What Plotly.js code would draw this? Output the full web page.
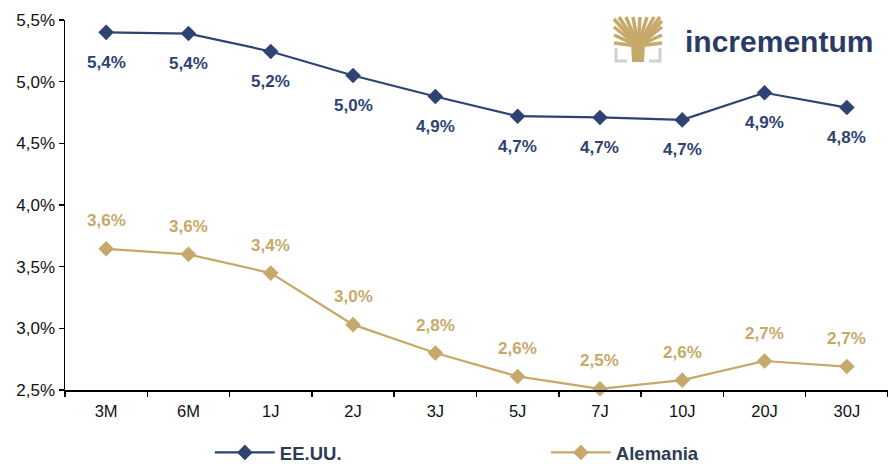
<!DOCTYPE html>
<html>
<head>
<meta charset="utf-8">
<script src="https://cdn.plot.ly/plotly-3.0.1.min.js"></script>
<style>html,body{margin:0;padding:0;background:#fff;}#chart{width:888px;height:466px;}</style>
</head>
<body>
<div id="chart"></div>
<script>
var categories = ["3M","6M","1J","2J","3J","5J","7J","10J","20J","30J"];
var usaValues = [5.40, 5.39, 5.245, 5.05, 4.88, 4.72, 4.71, 4.69, 4.91, 4.79];
var gerValues = [3.645, 3.60, 3.448, 3.03, 2.80, 2.61, 2.51, 2.58, 2.735, 2.69];
var usaLabels = ["5,4%","5,4%","5,2%","5,0%","4,9%","4,7%","4,7%","4,7%","4,9%","4,8%"];
var gerLabels = ["3,6%","3,6%","3,4%","3,0%","2,8%","2,6%","2,5%","2,6%","2,7%","2,7%"];
var yTickVals = [2.5, 3.0, 3.5, 4.0, 4.5, 5.0, 5.5];
var yTickText = ["2,5%","3,0%","3,5%","4,0%","4,5%","5,0%","5,5%"];
var seriesNames = ["EE.UU.", "Alemania"];

var navy = "#2E4372";
var gold = "#C6A96A";
var font = "Liberation Sans, Arial, sans-serif";

var traces = [
  {
    x: categories, y: usaValues, name: seriesNames[0], type: "scatter",
    mode: "lines+markers",
    line: {color: navy, width: 2.2},
    marker: {symbol: "diamond", size: 12, color: navy},
    cliponaxis: false
  },
  {
    x: categories, y: gerValues, name: seriesNames[1], type: "scatter",
    mode: "lines+markers",
    line: {color: gold, width: 2.2},
    marker: {symbol: "diamond", size: 12, color: gold},
    cliponaxis: false
  }
];

var annotations = [];
categories.forEach(function(c, i){
  annotations.push({x: c, y: usaValues[i], xref: "x", yref: "y", text: usaLabels[i], showarrow: false,
    yshift: -30, font: {family: font, size: 17, color: navy, weight: "bold"}});
  annotations.push({x: c, y: gerValues[i], xref: "x", yref: "y", text: gerLabels[i], showarrow: false,
    yshift: 28, font: {family: font, size: 17, color: gold, weight: "bold"}});
});

function px(x){return (x-65)/823;}
function py(y){return (390-y)/370;}

annotations.push({xref: "paper", yref: "paper", x: px(683), y: py(42), xanchor: "left", yanchor: "middle",
  text: "incrementum", showarrow: false,
  font: {family: "Liberation Sans, Arial, sans-serif", size: 30, color: "#2B3B66", weight: "bold"}});

var shapes = [];
// trunk
shapes.push({type:"path", xref:"paper", yref:"paper",
  path:"M"+px(632)+","+py(62)+" L"+px(644)+","+py(62)+" L"+px(645)+","+py(42)+" L"+px(631)+","+py(42)+" Z",
  fillcolor:gold, line:{width:0}});
// branches
var tips = [[614,19],[619,17],[626,17],[633,17],[640,17],[647,17],[654,17],[660,17],[662,21],[614,27],[662,27],[614,35],[662,35],[614,43],[662,43]];
tips.forEach(function(t){
  shapes.push({type:"line", xref:"paper", yref:"paper", x0:px(638), y0:py(46), x1:px(t[0]), y1:py(t[1]),
    line:{color:gold, width:3.5}});
});
// brackets
shapes.push({type:"path", xref:"paper", yref:"paper", path:"M"+px(616)+","+py(48)+" L"+px(616)+","+py(61)+" L"+px(627)+","+py(61), line:{color:"#D0D0D0", width:3}});
shapes.push({type:"path", xref:"paper", yref:"paper", path:"M"+px(660)+","+py(48)+" L"+px(660)+","+py(61)+" L"+px(649)+","+py(61), line:{color:"#D0D0D0", width:3}});

var layout = {
  width: 888, height: 466,
  margin: {l: 65, r: 0, t: 20, b: 76, autoexpand: false},
  paper_bgcolor: "#fff", plot_bgcolor: "#fff",
  font: {family: font, color: "#111"},
  showlegend: true,
  legend: {
    orientation: "h", x: 0.176, xanchor: "left", y: -0.17, yanchor: "middle",
    font: {family: font, size: 18.5, color: "#2E3B55", weight: "bold"},
    entrywidth: 261, entrywidthmode: "pixels", itemwidth: 60
  },
  xaxis: {
    type: "category", range: [-0.5, 9.5], tickson: "boundaries",
    showline: true, linecolor: "#000", linewidth: 1.5,
    ticks: "outside", ticklen: 5, tickcolor: "#000", tickwidth: 1.5,
    ticklabelstandoff: 6,
    showgrid: false, zeroline: false,
    tickfont: {family: font, size: 16.5, color: "#111"}
  },
  yaxis: {
    range: [2.5, 5.5], tickvals: yTickVals, ticktext: yTickText,
    showline: true, linecolor: "#000", linewidth: 1.5,
    ticks: "outside", ticklen: 5, tickcolor: "#000", tickwidth: 1.5,
    showgrid: false, zeroline: false,
    tickfont: {family: font, size: 17, color: "#111"}
  },
  shapes: shapes,
  annotations: annotations
};

Plotly.newPlot("chart", traces, layout, {displayModeBar: false, staticPlot: true});
</script>
</body>
</html>
